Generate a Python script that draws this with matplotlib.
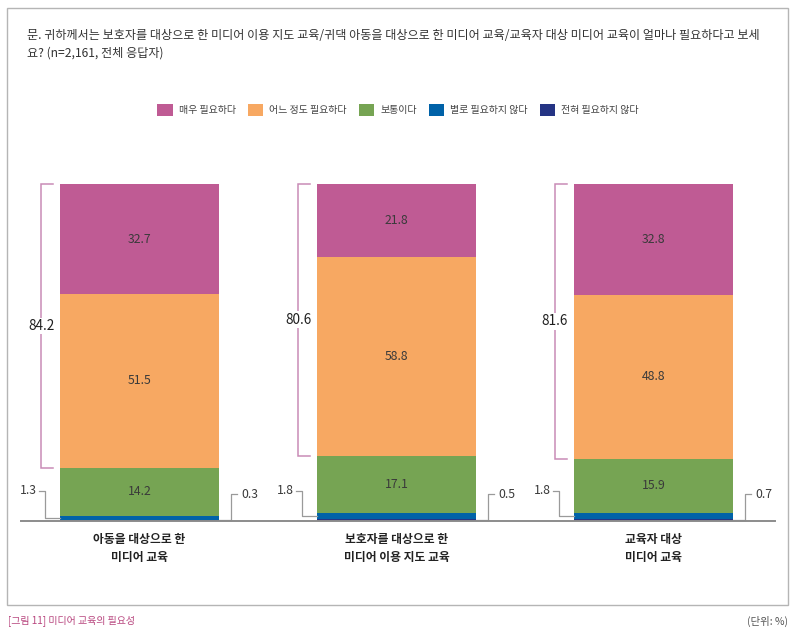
import matplotlib
matplotlib.use("Agg")
import matplotlib.pyplot as plt
from matplotlib.patches import Rectangle

plt.rcParams['font.family'] = ['Noto Sans CJK KR', 'DejaVu Sans']

categories = ['아동을 대상으로 한\n미디어 교육',
              '보호자를 대상으로 한\n미디어 이용 지도 교육',
              '교육자 대상\n미디어 교육']
series_names = ['매우 필요하다', '어느 정도 필요하다', '보통이다',
                '별로 필요하지 않다', '전혀 필요하지 않다']
very = [32.7, 21.8, 32.8]
somewhat = [51.5, 58.8, 48.8]
neutral = [14.2, 17.1, 15.9]
not_much = [1.3, 1.8, 1.8]
not_at_all = [0.3, 0.5, 0.7]
need_total = [84.2, 80.6, 81.6]

colors = ['#BF5B94', '#F7A862', '#76A453', '#0062A8', '#253484']

title = ('문. 귀하께서는 보호자를 대상으로 한 미디어 이용 지도 교육/귀댁 아동을 대상으로 한 미디어 교육/교육자 대상 미디어 교육이 얼마나 필요하다고 보세\n'
         '요? (n=2,161, 전체 응답자)')

W, H = 797, 634
fig = plt.figure(figsize=(W / 100, H / 100), dpi=100)

# axes placed in pixel terms (baseline at y=521, bar tops at y=184)
ax = fig.add_axes([21 / W, (H - 521) / H, (775 - 21) / W, 337 / H])
px = 257.0  # pixels per category step
bar_w = 159 / px
x = list(range(len(categories)))

stack = [not_at_all, not_much, neutral, somewhat, very]
stack_colors = colors[::-1]
stack_names = series_names[::-1]
bottoms = [0.0] * len(x)
bars = {}
for vals, col, name in zip(stack, stack_colors, stack_names):
    b = ax.bar(x, vals, bar_w, bottom=bottoms, color=col, label=name, linewidth=0)
    bars[name] = b
    bottoms = [bt + v for bt, v in zip(bottoms, vals)]

# value labels inside the big segments
for i in x:
    base = not_at_all[i] + not_much[i]
    for lo, v in [(base, neutral[i]),
                  (base + neutral[i], somewhat[i]),
                  (base + neutral[i] + somewhat[i], very[i])]:
        ax.text(i, lo + v / 2, f'{v:.1f}', ha='center', va='center',
                fontsize=8.8, color='#3a3a3a')

# brackets for 필요 total
for i in x:
    left = i - bar_w / 2
    bx = left - 19 / px
    tx = left - 7 / px
    y0 = not_at_all[i] + not_much[i] + neutral[i]
    y1 = y0 + somewhat[i] + very[i]
    ax.plot([tx, bx, bx, tx], [y1, y1, y0, y0], color='#C98BB6', lw=1.1,
            clip_on=False, solid_joinstyle='miter')
    ax.text(bx, (y0 + y1) / 2, f'{need_total[i]:.1f}', ha='center', va='center',
            fontsize=9.8, color='#1e1e1e',
            bbox=dict(facecolor='white', edgecolor='none', pad=1.0))

# small-value callouts
for i in x:
    left = i - bar_w / 2
    right = i + bar_w / 2
    # 별로 필요하지 않다 (left side)
    ym = not_at_all[i] + not_much[i] / 2
    vx = left - 15 / px
    ly = 9.0
    ax.plot([left, vx, vx, vx - 6 / px], [ym, ym, ly, ly], color='#9a9a9a',
            lw=0.9, clip_on=False)
    ax.text(vx - 8 / px, ly, f'{not_much[i]:.1f}', ha='right', va='center',
            fontsize=8.8, color='#3a3a3a')
    # 전혀 필요하지 않다 (right side)
    ym = not_at_all[i] / 2
    vx = right + 12 / px
    ly = 8.0
    ax.plot([right, vx, vx, vx + 6 / px], [ym, ym, ly, ly], color='#9a9a9a',
            lw=0.9, clip_on=False)
    ax.text(vx + 10 / px, ly, f'{not_at_all[i]:.1f}', ha='left', va='center',
            fontsize=8.8, color='#3a3a3a')

ax.set_xlim((21 - 139.5) / px, (775 - 139.5) / px)
ax.set_ylim(0, 100)
for s in ['top', 'right', 'left']:
    ax.spines[s].set_visible(False)
ax.spines['bottom'].set_color('#8c8c8c')
ax.spines['bottom'].set_linewidth(1.4)
ax.set_yticks([])
ax.set_xticks(x)
ax.set_xticklabels(categories, fontsize=8.5, fontweight='bold', color='#222222',
                   linespacing=1.5)
ax.tick_params(axis='x', length=0, pad=8.5)

# legend
handles = [bars[n] for n in series_names]
fig.legend(handles, series_names, loc='center', bbox_to_anchor=(398 / W, 1 - 110 / H),
           ncol=5, frameon=False, fontsize=7.2, handlelength=1.55, handleheight=1.55,
           handletextpad=0.6, columnspacing=1.2, labelcolor='#444444')

fig.text(27 / W, 1 - 29 / H, title, ha='left', va='top', fontsize=8.7,
         color='#333333', linespacing=1.5)

fig.patches.append(Rectangle((7 / W, 1 - 605 / H), 781 / W, 597 / H,
                             transform=fig.transFigure, fill=False,
                             edgecolor='#b5b5b5', lw=1))
fig.text(8 / W, 1 - 621 / H, '[그림 11] 미디어 교육의 필요성', ha='left', va='center',
         fontsize=7.2, color='#B8467F')
fig.text(788 / W, 1 - 621 / H, '(단위: %)', ha='right', va='center',
         fontsize=7.5, color='#555555')

fig.savefig('out.png', dpi=100)
